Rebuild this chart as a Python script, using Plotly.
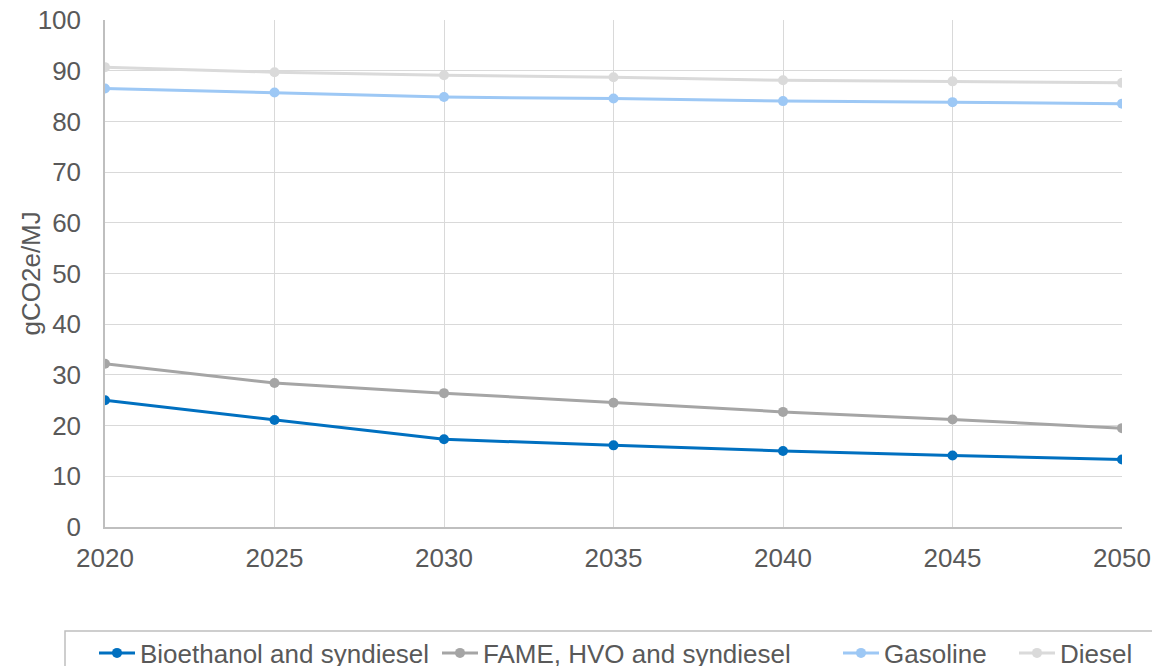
import plotly.graph_objects as go

years = [2020, 2025, 2030, 2035, 2040, 2045, 2050]
bioethanol = [25.0, 21.1, 17.3, 16.1, 15.0, 14.1, 13.3]
fame = [32.2, 28.4, 26.4, 24.5, 22.7, 21.2, 19.5]
gasoline = [86.5, 85.7, 84.8, 84.5, 84.0, 83.8, 83.5]
diesel = [90.7, 89.7, 89.1, 88.7, 88.1, 87.9, 87.6]

series_names = ["Bioethanol and syndiesel", "FAME, HVO and syndiesel", "Gasoline", "Diesel"]
series_values = [bioethanol, fame, gasoline, diesel]
series_colors = ["#0070C0", "#A5A5A5", "#9DC8F5", "#DADADA"]
legend_widths = [292, 350, 125, 75]

FONT = "Liberation Sans, Arial, sans-serif"
TXT = "#595959"
FS = 26

W, H = 1152, 658
ML, MR, MT, MB = 97, 38, 12, 139
PW = W - ML - MR
PH = H - MT - MB

fig = go.Figure()
for name, vals, col, lw in zip(series_names, series_values, series_colors, legend_widths):
    fig.add_trace(go.Scatter(
        x=years, y=vals, name=name, mode="lines+markers",
        line=dict(color=col, width=3),
        marker=dict(color=col, size=10, symbol="circle"),
        legendwidth=lw,
    ))

fig.update_layout(
    width=W, height=H,
    margin=dict(l=ML, r=MR, t=MT, b=MB, autoexpand=False),
    paper_bgcolor="white", plot_bgcolor="white",
    font=dict(family=FONT, size=FS, color=TXT),
    showlegend=True,
    legend=dict(
        orientation="h", xref="paper", yref="paper",
        x=(86 - ML) / PW, xanchor="left",
        y=-(645 - (MT + PH)) / PH, yanchor="middle",
        font=dict(family=FONT, size=FS, color=TXT),
        bgcolor="rgba(0,0,0,0)", borderwidth=0,
        itemwidth=36, traceorder="normal",
    ),
    shapes=[dict(
        type="rect", xref="paper", yref="paper",
        x0=(57 - ML) / PW, x1=1.3, y0=-(623 - (MT + PH)) / PH, y1=-0.5,
        line=dict(color="#BFBFBF", width=1.5), fillcolor="rgba(0,0,0,0)", layer="below",
    )],
    annotations=[dict(
        text="gCO2e/MJ", xref="paper", yref="paper",
        x=(22 - ML) / PW, y=0.5, xanchor="center", yanchor="middle",
        textangle=-90, showarrow=False,
        font=dict(family=FONT, size=FS, color=TXT),
    )],
)

fig.update_xaxes(
    range=[2020, 2050], tickmode="linear", tick0=2020, dtick=5,
    showgrid=True, gridcolor="#D9D9D9", gridwidth=1,
    showline=True, linecolor="#BFBFBF", linewidth=1.5,
    zeroline=False, ticks="", ticklabelstandoff=7, automargin=False,
    ticklabeloverflow="allow",
    tickfont=dict(family=FONT, size=FS, color=TXT),
)
fig.update_yaxes(
    range=[0, 100], tickmode="linear", tick0=0, dtick=10,
    showgrid=True, gridcolor="#D9D9D9", gridwidth=1,
    showline=True, linecolor="#BFBFBF", linewidth=1.5,
    zeroline=False, ticks="", ticklabelstandoff=17, automargin=False,
    ticklabeloverflow="allow",
    tickfont=dict(family=FONT, size=FS, color=TXT),
)

fig.write_html("out.html")
